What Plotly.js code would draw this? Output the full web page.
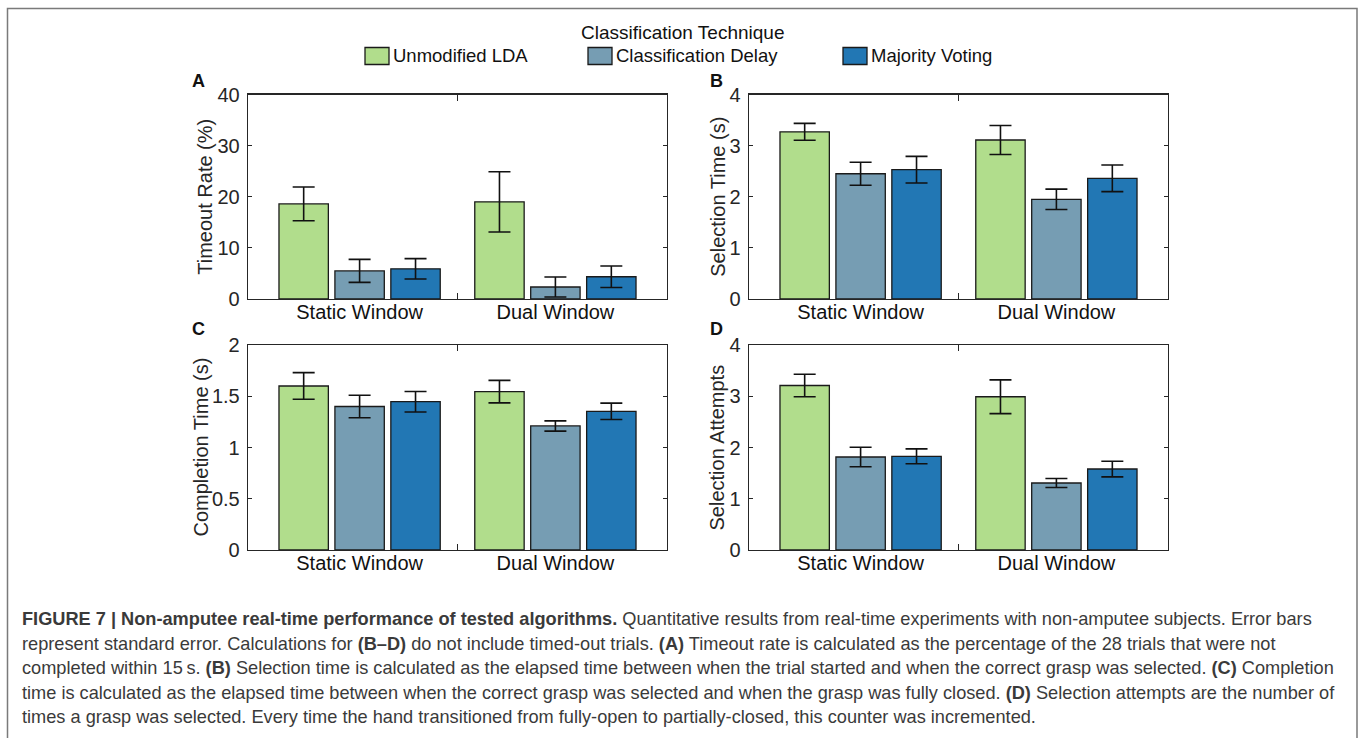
<!DOCTYPE html>
<html><head><meta charset="utf-8">
<script src="https://cdn.plot.ly/plotly-3.0.1.min.js"></script>
<style>html,body{margin:0;padding:0;background:#fff;}#chart{width:1360px;height:738px;}</style>
</head><body><div id="chart"></div>
<script>
// ---- data ----
const categories = ['Static Window', 'Dual Window'];
const seriesNames = ['Unmodified LDA', 'Classification Delay', 'Majority Voting'];
const seriesColors = ['#b1dd8c', '#769db3', '#2277b4'];
const legendTitle = 'Classification Technique';
const panelLetters = ['A', 'B', 'C', 'D'];
const yTitles = ['Timeout Rate (%)', 'Selection Time (s)', 'Completion Time (s)', 'Selection Attempts'];

// A: timeout rate (%)
const timeoutLDA = [18.6, 19.0],   timeoutLDAErr = [3.3, 5.9];
const timeoutDelay = [5.5, 2.35],  timeoutDelayErr = [2.25, 1.95];
const timeoutVote = [5.9, 4.35],   timeoutVoteErr = [2.0, 2.1];
// B: selection time (s)
const selTimeLDA = [3.27, 3.11],   selTimeLDAErr = [0.165, 0.285];
const selTimeDelay = [2.45, 1.95], selTimeDelayErr = [0.225, 0.2];
const selTimeVote = [2.53, 2.36],  selTimeVoteErr = [0.26, 0.26];
// C: completion time (s)
const compTimeLDA = [1.60, 1.545],  compTimeLDAErr = [0.13, 0.11];
const compTimeDelay = [1.40, 1.21], compTimeDelayErr = [0.11, 0.05];
const compTimeVote = [1.447, 1.353], compTimeVoteErr = [0.1, 0.08];
// D: selection attempts
const attemptsLDA = [3.21, 2.99],   attemptsLDAErr = [0.22, 0.33];
const attemptsDelay = [1.815, 1.307], attemptsDelayErr = [0.19, 0.088];
const attemptsVote = [1.828, 1.58], attemptsVoteErr = [0.145, 0.153];

const yRanges = [[0, 40], [0, 4], [0, 2], [0, 4]];
const yDticks = [10, 1, 0.5, 1];

const captionLines = [
  '<b>FIGURE 7 | Non-amputee real-time performance of tested algorithms.</b> Quantitative results from real-time experiments with non-amputee subjects. Error bars',
  'represent standard error. Calculations for <b>(B–D)</b> do not include timed-out trials. <b>(A)</b> Timeout rate is calculated as the percentage of the 28 trials that were not',
  'completed within 15\u2009s. <b>(B)</b> Selection time is calculated as the elapsed time between when the trial started and when the correct grasp was selected. <b>(C)</b> Completion',
  'time is calculated as the elapsed time between when the correct grasp was selected and when the grasp was fully closed. <b>(D)</b> Selection attempts are the number of',
  'times a grasp was selected. Every time the hand transitioned from fully-open to partially-closed, this counter was incremented.'
];

const panelValues = [
  [[timeoutLDA, timeoutLDAErr], [timeoutDelay, timeoutDelayErr], [timeoutVote, timeoutVoteErr]],
  [[selTimeLDA, selTimeLDAErr], [selTimeDelay, selTimeDelayErr], [selTimeVote, selTimeVoteErr]],
  [[compTimeLDA, compTimeLDAErr], [compTimeDelay, compTimeDelayErr], [compTimeVote, compTimeVoteErr]],
  [[attemptsLDA, attemptsLDAErr], [attemptsDelay, attemptsDelayErr], [attemptsVote, attemptsVoteErr]]
];

// ---- layout geometry ----
const W = 1360, H = 738;
const FONT = 'Liberation Sans, Arial, Helvetica, sans-serif';
const AX = '#262626';
const colPx = [[248, 667], [749, 1168]];
const rowPx = [[94.5, 299], [345, 550]];
const yTitleX = [205, 718, 200, 716];
const px = v => v / W, py = v => 1 - v / H;
const xPos = [1, 2];

const data = [];
const layout = {
  width: W, height: H,
  margin: {l: 0, r: 0, t: 0, b: 0},
  paper_bgcolor: '#fff', plot_bgcolor: '#fff',
  barmode: 'group', bargap: 0.143, bargroupgap: 0.117,
  showlegend: false,
  font: {family: FONT, color: AX},
  annotations: [], shapes: []
};

for (let p = 0; p < 4; p++) {
  const col = p % 2, row = Math.floor(p / 2);
  const n = p + 1;
  const xa = 'xaxis' + (n === 1 ? '' : n), ya = 'yaxis' + (n === 1 ? '' : n);
  const xr = 'x' + (n === 1 ? '' : n), yr = 'y' + (n === 1 ? '' : n);
  const tn = n + 4; // overlay axis for centre tick
  layout[xa] = {
    domain: [px(colPx[col][0]), px(colPx[col][1])], anchor: yr,
    range: [0.43, 2.57], tickmode: 'array', tickvals: xPos, ticktext: categories,
    ticks: '', showline: true, linecolor: AX, linewidth: 1.3, mirror: true,
    showgrid: false, zeroline: false, tickfont: {size: 20, color: '#111', family: FONT},
    ticklabelstandoff: -5
  };
  layout['xaxis' + tn] = {
    overlaying: xr, anchor: yr, range: [0.43, 2.57], tickmode: 'array', tickvals: [1.5],
    showticklabels: false, ticks: 'inside', ticklen: 6, tickwidth: 1.3, tickcolor: AX,
    showline: true, linecolor: AX, linewidth: 1.3, mirror: 'ticks', showgrid: false, zeroline: false
  };
  layout[ya] = {
    domain: [py(rowPx[row][1]), py(rowPx[row][0])], anchor: xr,
    range: yRanges[p], dtick: yDticks[p], tick0: 0,
    ticks: 'inside', ticklen: 4, tickwidth: 1.2, tickcolor: AX,
    showline: true, linecolor: AX, linewidth: 1.3, mirror: 'ticks',
    showgrid: false, zeroline: false,
    tickfont: {size: 20, color: AX, family: FONT}, ticklabelstandoff: 3
  };
  // y-axis title
  layout.annotations.push({
    xref: 'paper', yref: 'paper', x: px(yTitleX[p]), y: py((rowPx[row][0] + rowPx[row][1]) / 2),
    text: yTitles[p], textangle: -90, showarrow: false, xanchor: 'center', yanchor: 'middle',
    font: {size: 20, color: AX, family: FONT}
  });
  // invisible trace to activate overlay axis
  data.push({type: 'scatter', x: [1.5], y: [0], xaxis: 'x' + tn, yaxis: yr,
    mode: 'markers', marker: {opacity: 0}, hoverinfo: 'skip', showlegend: false});
  for (let s = 0; s < 3; s++) {
    data.push({
      type: 'bar', name: seriesNames[s], x: xPos, y: panelValues[p][s][0],
      xaxis: xr, yaxis: yr, offsetgroup: String(s),
      marker: {color: seriesColors[s], line: {color: '#1a1a1a', width: 1.3}},
      error_y: {type: 'data', array: panelValues[p][s][1], visible: true,
        color: '#111', thickness: 1.6, width: 11},
      showlegend: false
    });
  }
  // panel letter
  layout.annotations.push({
    xref: 'paper', yref: 'paper', x: px(col === 0 ? 198.5 : 716.5), y: py(row === 0 ? 81 : 329),
    text: '<b>' + panelLetters[p] + '</b>', showarrow: false, xanchor: 'center', yanchor: 'middle',
    font: {size: 18, color: '#111', family: FONT}
  });
}

// ---- manual legend ----
layout.annotations.push({
  xref: 'paper', yref: 'paper', x: px(683), y: py(33), text: legendTitle, showarrow: false,
  xanchor: 'center', yanchor: 'middle', font: {size: 19, color: '#111', family: FONT}
});
const legendX = [365, 588, 843];
for (let s = 0; s < 3; s++) {
  layout.shapes.push({
    type: 'rect', xref: 'paper', yref: 'paper',
    x0: px(legendX[s]), x1: px(legendX[s] + 24), y0: py(64.5), y1: py(47.5),
    fillcolor: seriesColors[s], line: {color: '#1a1a1a', width: 1.3}
  });
  layout.annotations.push({
    xref: 'paper', yref: 'paper', x: px(legendX[s] + 26), y: py(56), text: seriesNames[s],
    showarrow: false, xanchor: 'left', yanchor: 'middle',
    font: {size: 18.5, color: '#111', family: FONT}
  });
}

// ---- caption ----
for (let i = 0; i < captionLines.length; i++) {
  layout.annotations.push({
    xref: 'paper', yref: 'paper', x: px(20), y: py(619 + i * 24.5), text: captionLines[i],
    showarrow: false, xanchor: 'left', yanchor: 'middle', align: 'left',
    font: {size: 18.2, color: '#3a3a3a', family: FONT}
  });
}

// ---- frame ----
layout.shapes.push({
  type: 'rect', xref: 'paper', yref: 'paper', x0: px(7.5), x1: px(1357), y0: -0.05, y1: py(8.5),
  line: {color: '#7a7a7a', width: 1.5}, fillcolor: 'rgba(0,0,0,0)'
});

Plotly.newPlot('chart', data, layout, {displayModeBar: false, staticPlot: true});
</script>
</body></html>
